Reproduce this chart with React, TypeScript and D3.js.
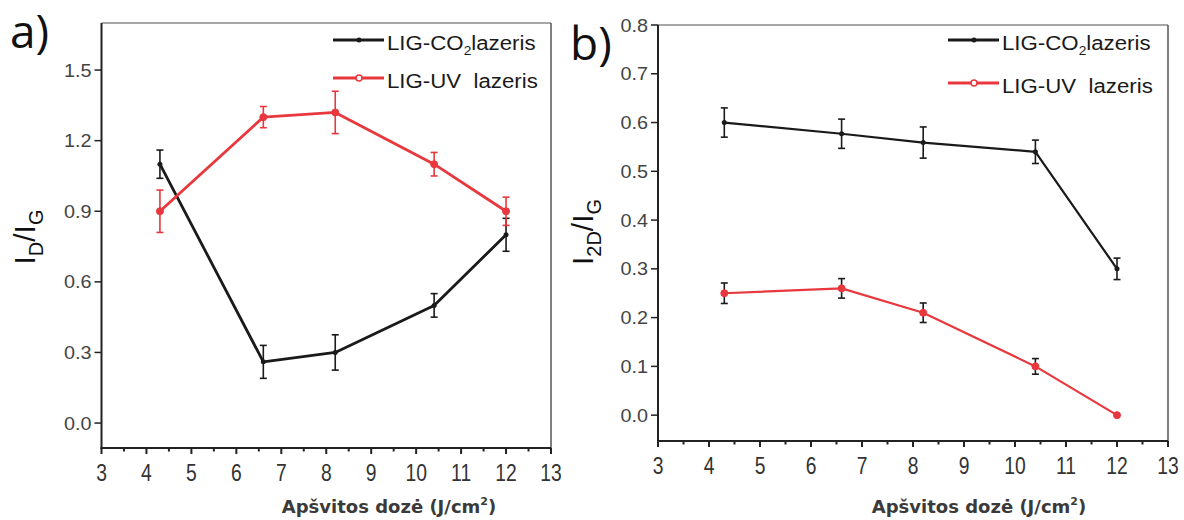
import React from "react";
import * as d3 from "d3";

// Irradiation dose (J/cm²) for every sample
const doses = [4.3, 6.6, 8.2, 10.4, 12];

// Panel a: I_D / I_G
const dgCO2 = [1.1, 0.26, 0.3, 0.5, 0.8];
const dgCO2Err = [0.06, 0.07, 0.075, 0.05, 0.07];
const dgUV = [0.9, 1.3, 1.32, 1.1, 0.9];
const dgUVErr = [0.09, 0.045, 0.09, 0.05, 0.06];

// Panel b: I_2D / I_G
const g2dCO2 = [0.6, 0.577, 0.559, 0.54, 0.3];
const g2dCO2Err = [0.03, 0.03, 0.032, 0.024, 0.022];
const g2dUV = [0.25, 0.26, 0.21, 0.1, 0.0];
const g2dUVErr = [0.021, 0.02, 0.02, 0.016, 0];

const xTicks = [3, 4, 5, 6, 7, 8, 9, 10, 11, 12, 13];
const xMinorTicks = [3.5, 4.5, 5.5, 6.5, 7.5, 8.5, 9.5, 10.5, 11.5, 12.5];
const yTicksA = [0, 0.3, 0.6, 0.9, 1.2, 1.5];
const yTicksB = [0, 0.1, 0.2, 0.3, 0.4, 0.5, 0.6, 0.7, 0.8];

const BLACK = "#1a1a1a";
const RED = "#e8383d";
const SANS = "'Liberation Sans', Arial, sans-serif";

type Series = { values: number[]; errors: number[]; color: string; barColor: string; kind: "co2" | "uv" };

type PanelProps = {
  left: number;
  right: number;
  top: number;
  bottom: number;
  yDomain: [number, number];
  yTicks: number[];
  series: Series[];
  tag: string;
  tagX: number;
  tagY: number;
  yLabelX: number;
  yLabelY: number;
  yLabelSub: string;
  legendX: number;
  legendY: number[];
  lineWidth: number;
  xLabelX: number;
};

function Panel(p: PanelProps) {
  const x = d3.scaleLinear().domain([3, 13]).range([p.left, p.right]);
  const y = d3.scaleLinear().domain(p.yDomain).range([p.bottom, p.top]);
  const line = d3
    .line<number>()
    .x((_, i) => x(doses[i]))
    .y((v) => y(v));

  return (
    <g>
      {/* frame */}
      <line x1={p.left} x2={p.right} y1={p.top} y2={p.top} stroke="#8a8a8a" strokeWidth={1.5} />
      <line x1={p.right} x2={p.right} y1={p.top} y2={p.bottom} stroke="#555" strokeWidth={1.5} />
      <line x1={p.left} x2={p.left} y1={p.top} y2={p.bottom + 1} stroke="#222" strokeWidth={2} />
      <line x1={p.left - 1} x2={p.right} y1={p.bottom} y2={p.bottom} stroke="#222" strokeWidth={2} />

      {/* x ticks */}
      {xTicks.map((t) => (
        <g key={"xt" + t}>
          <line x1={x(t)} x2={x(t)} y1={p.bottom} y2={p.bottom + 6} stroke="#222" strokeWidth={2} />
          <text
            transform={`translate(${x(t)},${p.bottom + 33}) scale(0.84,1)`}
            textAnchor="middle"
            fontFamily={SANS}
            fontSize={23}
            fill="#333"
          >
            {t}
          </text>
        </g>
      ))}
      {xMinorTicks.map((t) => (
        <line key={"xm" + t} x1={x(t)} x2={x(t)} y1={p.bottom} y2={p.bottom + 3.5} stroke="#222" strokeWidth={2} />
      ))}

      {/* y ticks */}
      {p.yTicks.map((t) => (
        <g key={"yt" + t}>
          <line x1={p.left - 7} x2={p.left} y1={y(t)} y2={y(t)} stroke="#222" strokeWidth={1.5} />
          <text
            transform={`translate(${p.left - 10},${y(t) + 6.5}) scale(1.1,1)`}
            textAnchor="end"
            fontFamily={SANS}
            fontSize={18}
            fill="#444"
          >
            {d3.format(".1f")(t)}
          </text>
        </g>
      ))}

      {/* series */}
      {p.series.map((s, si) => (
        <g key={"s" + si}>
          <path d={line(s.values) ?? ""} fill="none" stroke={s.color} strokeWidth={p.lineWidth} strokeLinejoin="round" />
          {s.values.map((v, i) =>
            s.errors[i] > 0 ? (
              <g key={"e" + i} stroke={s.barColor} strokeWidth={1.6}>
                <line x1={x(doses[i])} x2={x(doses[i])} y1={y(v - s.errors[i])} y2={y(v + s.errors[i])} />
                <line x1={x(doses[i]) - 3.5} x2={x(doses[i]) + 3.5} y1={y(v - s.errors[i])} y2={y(v - s.errors[i])} />
                <line x1={x(doses[i]) - 3.5} x2={x(doses[i]) + 3.5} y1={y(v + s.errors[i])} y2={y(v + s.errors[i])} />
              </g>
            ) : null
          )}
          {s.values.map((v, i) => (
            <circle
              key={"m" + i}
              cx={x(doses[i])}
              cy={y(v)}
              r={s.kind === "co2" ? 2.5 : 3.5}
              fill={s.color}
              stroke={s.kind === "co2" ? "none" : s.color}
              strokeWidth={1}
            />
          ))}
        </g>
      ))}

      {/* legend */}
      {p.series.map((s, si) => {
        const ly = p.legendY[si];
        const tx = p.legendX + 54;
        return (
          <g key={"lg" + si}>
            <line x1={p.legendX} x2={p.legendX + 51} y1={ly} y2={ly} stroke={s.color} strokeWidth={3} />
            {s.kind === "co2" ? (
              <circle cx={p.legendX + 26} cy={ly} r={2.5} fill={s.color} />
            ) : (
              <circle cx={p.legendX + 26} cy={ly} r={3} fill="#fff" stroke={s.color} strokeWidth={1.5} />
            )}
            <text
              transform={`translate(${tx},${ly + 10}) scale(1.06,1)`}
              fontFamily={SANS}
              fontSize={21}
              fill="#1a1a1a"
              style={{ whiteSpace: "pre" }}
            >
              {s.kind === "co2" ? (
                <>
                  LIG-CO
                  <tspan fontSize={13} dy={5}>2</tspan>
                  <tspan dy={-5}>lazeris</tspan>
                </>
              ) : (
                "LIG-UV  lazeris"
              )}
            </text>
          </g>
        );
      })}

      {/* panel tag */}
      <text x={p.tagX} y={p.tagY} fontFamily="'Open Sans', sans-serif" fontSize={46} fill="#111">
        {p.tag}
      </text>

      {/* y axis label */}
      <text
        transform={`translate(${p.yLabelX},${p.yLabelY}) rotate(-90)`}
        textAnchor="middle"
        fontFamily={SANS}
        fontSize={30}
        fill="#111"
      >
        I<tspan fontSize={20} dy={8}>{p.yLabelSub}</tspan>
        <tspan dy={-8}>/I</tspan>
        <tspan fontSize={20} dy={8}>G</tspan>
      </text>

      {/* x axis label */}
      <text
        x={p.xLabelX}
        y={513}
        textAnchor="middle"
        fontFamily="'DejaVu Sans', sans-serif"
        fontWeight="bold"
        fontSize={18}
        fill="#3a3a3a"
      >
        Apšvitos dozė (J/cm<tspan fontSize={11} dy={-8}>2</tspan>
        <tspan dy={8}>)</tspan>
      </text>
    </g>
  );
}

export default function App() {
  return (
    <svg
      width={1184}
      height={520}
      viewBox="0 0 1184 520"
      style={{ position: "absolute", left: 0, top: 0, background: "#fff" }}
    >
      <rect width={1184} height={520} fill="#fff" />
      <Panel
        left={101.5}
        right={551}
        top={23}
        bottom={448}
        yDomain={[-0.106, 1.7]}
        yTicks={yTicksA}
        series={[
          { values: dgCO2, errors: dgCO2Err, color: BLACK, barColor: BLACK, kind: "co2" },
          { values: dgUV, errors: dgUVErr, color: RED, barColor: RED, kind: "uv" },
        ]}
        tag="a)"
        tagX={10}
        tagY={48}
        yLabelX={35}
        yLabelY={237}
        yLabelSub="D"
        legendX={333}
        legendY={[40, 78]}
        lineWidth={2.8}
        xLabelX={389}
      />
      <Panel
        left={658}
        right={1168}
        top={25}
        bottom={441}
        yDomain={[-0.053, 0.8]}
        yTicks={yTicksB}
        series={[
          { values: g2dCO2, errors: g2dCO2Err, color: BLACK, barColor: BLACK, kind: "co2" },
          { values: g2dUV, errors: g2dUVErr, color: RED, barColor: BLACK, kind: "uv" },
        ]}
        tag="b)"
        tagX={570}
        tagY={60}
        yLabelX={593}
        yLabelY={232}
        yLabelSub="2D"
        legendX={948}
        legendY={[40, 83]}
        lineWidth={2.2}
        xLabelX={979}
      />
    </svg>
  );
}
